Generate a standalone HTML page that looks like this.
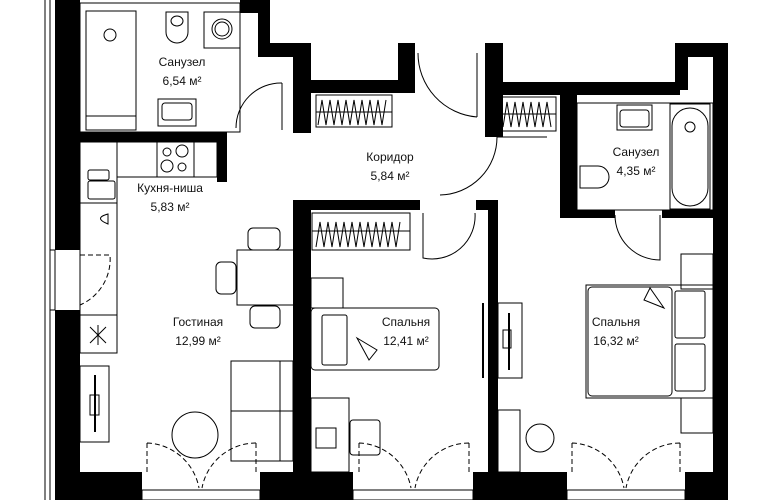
<!DOCTYPE html>
<html><head><meta charset="utf-8"><style>
html,body{margin:0;padding:0;background:#fff;width:770px;height:500px;overflow:hidden}
svg{display:block}
text{font-family:"Liberation Sans",sans-serif;font-size:12px;fill:#111;text-anchor:middle}
</style></head><body>
<svg width="770" height="500" viewBox="0 0 770 500" xmlns="http://www.w3.org/2000/svg">
<g fill="#000">
<rect x="55" y="0" width="25" height="250"/>
<rect x="55" y="310" width="25" height="190"/>
<rect x="240" y="0" width="30" height="13"/>
<rect x="258" y="0" width="12" height="57"/>
<rect x="258" y="43" width="53" height="14"/>
<rect x="293" y="43" width="18" height="90"/>
<rect x="311" y="80" width="104" height="13"/>
<rect x="398" y="43" width="17" height="50"/>
<rect x="485" y="43" width="18" height="94"/>
<rect x="502" y="82" width="178" height="13"/>
<rect x="675" y="43" width="53" height="14"/>
<rect x="675" y="43" width="13" height="47"/>
<rect x="713" y="43" width="15" height="457"/>
<rect x="560" y="95" width="17" height="123"/>
<rect x="560" y="210" width="55" height="8"/>
<rect x="662" y="210" width="51" height="8"/>
<rect x="80" y="132" width="137" height="10"/>
<rect x="217" y="132" width="10" height="50"/>
<rect x="293" y="200" width="127" height="10"/>
<rect x="293" y="200" width="18" height="272"/>
<rect x="476" y="200" width="22" height="10"/>
<rect x="488" y="200" width="10" height="272"/>
<rect x="55" y="472" width="87" height="28"/>
<rect x="260" y="472" width="93" height="28"/>
<rect x="473" y="472" width="94" height="28"/>
<rect x="685" y="472" width="43" height="28"/>
</g>
<g fill="none" stroke="#000" stroke-width="1">
<line x1="45" y1="0" x2="45" y2="500"/><line x1="50" y1="0" x2="50" y2="500"/>
<rect x="50" y="250" width="5" height="60"/>
<rect x="80" y="3" width="160" height="129"/>
<rect x="86" y="11" width="50" height="105"/><rect x="86" y="116" width="50" height="14"/>
<circle cx="110" cy="35" r="6"/>
<path d="M166 12 h22 v20 a11 11 0 0 1 -22 0 z"/><ellipse cx="177" cy="21" rx="6" ry="5"/>
<rect x="204" y="12" width="36" height="36"/><circle cx="222" cy="29" r="10"/><circle cx="222" cy="29" r="7"/>
<rect x="158" y="99" width="38" height="27"/><rect x="162" y="103" width="30" height="17" rx="3"/>
<path d="M282 83 A45 45 0 0 0 236 128 M282 83 v47"/>
<rect x="80" y="142" width="37" height="211" />
<rect x="117" y="142" width="100" height="35"/><rect x="157" y="142" width="37" height="35"/>
<circle cx="167" cy="152" r="4"/><circle cx="182" cy="151" r="6"/><circle cx="167" cy="166" r="6"/><circle cx="182" cy="167" r="4"/>
<rect x="88" y="170" width="21" height="10" rx="2"/><rect x="88" y="181" width="27" height="18" rx="2"/>
<line x1="80" y1="203" x2="117" y2="203"/><path d="M108 214 q-15 4 0 10 z"/>
<line x1="80" y1="315" x2="117" y2="315"/><line x1="90" y1="327" x2="106" y2="343"/><line x1="106" y1="327" x2="90" y2="343"/><line x1="98" y1="325" x2="98" y2="345"/>
<rect x="80" y="366" width="29" height="76"/><rect x="90" y="395" width="9" height="20"/>
<line x1="95" y1="375" x2="95" y2="432" stroke-width="2"/>
<path d="M80 255 h30 a50 50 0 0 1 -30 50" stroke-dasharray="5 3"/>
<rect x="237" y="250" width="57" height="55"/><rect x="216" y="262" width="20" height="32" rx="5"/>
<rect x="248" y="228" width="32" height="22" rx="5"/><rect x="250" y="306" width="30" height="22" rx="5"/>
<rect x="231" y="361" width="62" height="50"/><rect x="231" y="411" width="62" height="50"/><line x1="280" y1="361" x2="280" y2="461"/>
<circle cx="195" cy="435" r="23"/>
<path d="M147 443 v30 M256 443 v30 M147 443 a55 55 0 0 1 52 45 M256 443 a55 55 0 0 0 -54 45" stroke-dasharray="5 3"/>
<rect x="142" y="490" width="118" height="10"/>
<path d="M418 53 A64 64 0 0 0 477 117 M477 117 V53"/>
<path d="M497 137 A58 58 0 0 1 440 195 M497 137 H547"/>
<path d="M423 213 v45 A43 43 0 0 0 475 213"/>
<rect x="316" y="95" width="76" height="32"/><rect x="501" y="97" width="55" height="34"/><rect x="312" y="213" width="98" height="37"/>
<path d="M318 125 l4 -25 l4 25 l4 -25 l4 25 l4 -25 l4 25 l4 -25 l4 25 l4 -25 l4 25 l4 -25 l4 25 l4 -25 l4 25 l4 -25 l4 25 l4 -25"/>
<path d="M503 127 l4 -25 l4 25 l4 -25 l4 25 l4 -25 l4 25 l4 -25 l4 25 l4 -25 l4 25 l4 -25 l4 25"/>
<path d="M316 247 l4 -25 l4 25 l4 -25 l4 25 l4 -25 l4 25 l4 -25 l4 25 l4 -25 l4 25 l4 -25 l4 25 l4 -25 l4 25 l4 -25 l4 25 l4 -25 l4 25 l4 -25 l4 25 l4 -25"/>
<line x1="316" y1="112" x2="392" y2="112"/><line x1="501" y1="114" x2="556" y2="114"/><line x1="312" y1="231" x2="410" y2="231"/>
<rect x="577" y="103" width="136" height="107"/>
<rect x="617" y="105" width="35" height="25"/><rect x="620" y="110" width="29" height="17" rx="3"/>
<rect x="670" y="104" width="40" height="105"/><rect x="672" y="108" width="36" height="98" rx="18"/><circle cx="690" cy="127" r="5"/>
<path d="M580 166 h18 a11 11 0 0 1 0 22 h-18 z"/>
<path d="M615 215 a45 45 0 0 0 45 45 v-45"/>
<rect x="311" y="278" width="32" height="30"/>
<rect x="311" y="308" width="128" height="62" rx="4"/><rect x="322" y="315" width="25" height="50" rx="2"/>
<path d="M357 338 l20 12 l-8 10 z"/>
<rect x="311" y="398" width="38" height="74"/><rect x="316" y="428" width="20" height="20"/>
<rect x="350" y="420" width="30" height="35" rx="3"/>
<path d="M359 443 v30 M469 443 v30 M359 443 a55 55 0 0 1 52 45 M469 443 a55 55 0 0 0 -54 45" stroke-dasharray="5 3"/>
<rect x="353" y="490" width="120" height="10"/>
<rect x="498" y="303" width="24" height="75"/><rect x="503" y="330" width="8" height="18"/><line x1="509" y1="313" x2="509" y2="370" stroke-width="2"/>
<line x1="483" y1="303" x2="483" y2="378" stroke-width="2"/>
<rect x="498" y="410" width="22" height="62"/><circle cx="540" cy="438" r="14"/>
<rect x="681" y="254" width="32" height="35"/><rect x="681" y="398" width="32" height="35"/>
<rect x="586" y="285" width="127" height="113"/><rect x="588" y="287" width="84" height="109" rx="4"/>
<rect x="675" y="291" width="30" height="47" rx="2"/><rect x="675" y="344" width="30" height="47" rx="2"/>
<path d="M650 288 l-6 12 l20 8 z"/>
<path d="M572 443 v30 M680 443 v30 M572 443 a55 55 0 0 1 52 45 M680 443 a55 55 0 0 0 -54 45" stroke-dasharray="5 3"/>
<rect x="567" y="490" width="118" height="10"/>
</g>
<text x="182" y="66">Санузел</text><text x="182" y="85">6,54 м²</text>
<text x="390" y="161">Коридор</text><text x="390" y="180">5,84 м²</text>
<text x="636" y="156">Санузел</text><text x="636" y="175">4,35 м²</text>
<text x="170" y="192">Кухня-ниша</text><text x="170" y="211">5,83 м²</text>
<text x="198" y="326">Гостиная</text><text x="198" y="345">12,99 м²</text>
<text x="406" y="326">Спальня</text><text x="406" y="345">12,41 м²</text>
<text x="616" y="326">Спальня</text><text x="616" y="345">16,32 м²</text>
</svg>
</body></html>
